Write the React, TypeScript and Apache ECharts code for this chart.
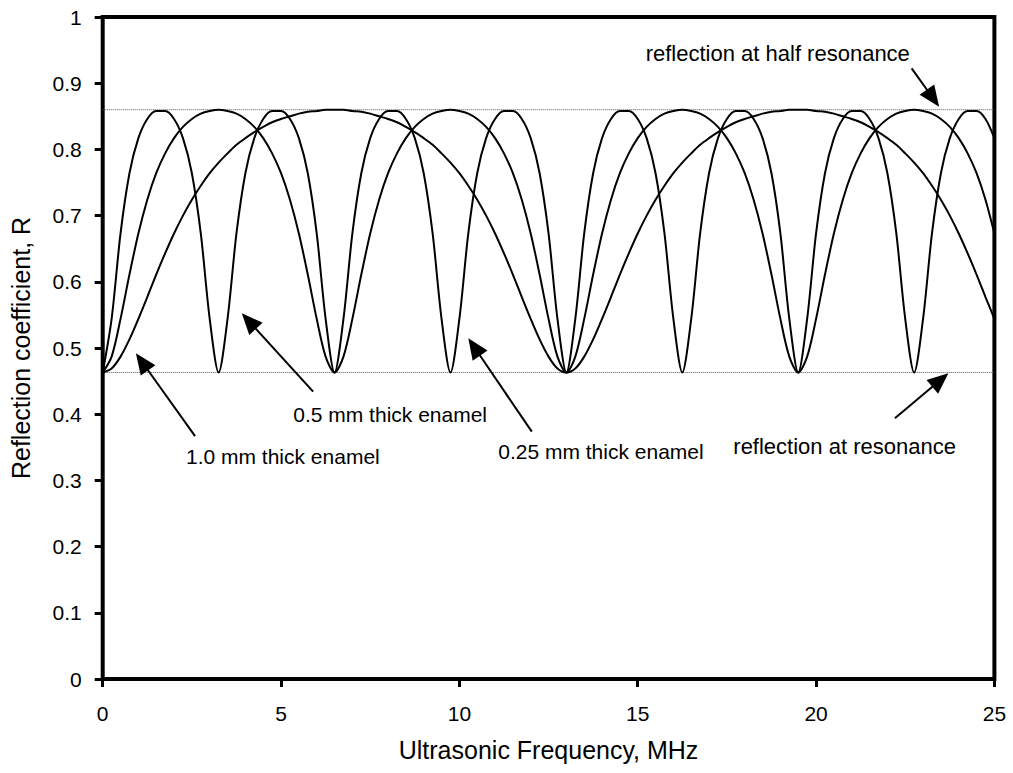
import React, { useEffect, useRef } from "react";
import * as echarts from "echarts";

// Ultrasonic frequency grid (MHz)
const frequency = [
  0, 0.25, 0.5, 0.75, 1, 1.25, 1.5, 1.75, 2, 2.25, 2.5, 2.75, 3, 3.25, 3.5, 3.75, 4, 4.25, 4.5, 4.75,
  5, 5.25, 5.5, 5.75, 6, 6.25, 6.5, 6.75, 7, 7.25, 7.5, 7.75, 8, 8.25, 8.5, 8.75, 9, 9.25, 9.5, 9.75,
  10, 10.25, 10.5, 10.75, 11, 11.25, 11.5, 11.75, 12, 12.25, 12.5, 12.75, 13, 13.25, 13.5, 13.75, 14, 14.25, 14.5, 14.75,
  15, 15.25, 15.5, 15.75, 16, 16.25, 16.5, 16.75, 17, 17.25, 17.5, 17.75, 18, 18.25, 18.5, 18.75, 19, 19.25, 19.5, 19.75,
  20, 20.25, 20.5, 20.75, 21, 21.25, 21.5, 21.75, 22, 22.25, 22.5, 22.75, 23, 23.25, 23.5, 23.75, 24, 24.25, 24.5, 24.75,
  25,
];

// Reflection coefficient, 1.0 mm thick enamel
const enamel10 = [
  0.463, 0.469, 0.487, 0.513, 0.544, 0.577, 0.611, 0.643, 0.673, 0.700, 0.724, 0.745, 0.764, 0.780, 0.794, 0.807, 0.817, 0.826, 0.834, 0.841, 0.846, 0.850, 0.854, 0.857, 0.858, 0.860, 0.860,
  0.860, 0.858, 0.857, 0.854, 0.850, 0.846, 0.841, 0.834, 0.826, 0.817, 0.807, 0.794, 0.780, 0.764, 0.745, 0.724, 0.700, 0.673, 0.643, 0.611, 0.577, 0.544, 0.513, 0.487, 0.469, 0.463,
  0.469, 0.487, 0.513, 0.544, 0.577, 0.611, 0.643, 0.673, 0.700, 0.724, 0.745, 0.764, 0.780, 0.794, 0.807, 0.817, 0.826, 0.834, 0.841, 0.846, 0.850, 0.854, 0.857, 0.858, 0.860, 0.860,
  0.860, 0.858, 0.857, 0.854, 0.850, 0.846, 0.841, 0.834, 0.826, 0.817, 0.807, 0.794, 0.780, 0.764, 0.745, 0.724, 0.700, 0.673, 0.643, 0.611, 0.577, 0.544,
];

// Reflection coefficient, 0.5 mm thick enamel
const enamel05 = [
  0.463, 0.487, 0.544, 0.611, 0.673, 0.724, 0.764, 0.794, 0.817, 0.834, 0.846, 0.854, 0.858, 0.860,
  0.858, 0.854, 0.846, 0.834, 0.817, 0.794, 0.764, 0.724, 0.673, 0.611, 0.544, 0.487, 0.463,
  0.487, 0.544, 0.611, 0.673, 0.724, 0.764, 0.794, 0.817, 0.834, 0.846, 0.854, 0.858, 0.860,
  0.858, 0.854, 0.846, 0.834, 0.817, 0.794, 0.764, 0.724, 0.673, 0.611, 0.544, 0.487, 0.463,
  0.487, 0.544, 0.611, 0.673, 0.724, 0.764, 0.794, 0.817, 0.834, 0.846, 0.854, 0.858, 0.860,
  0.858, 0.854, 0.846, 0.834, 0.817, 0.794, 0.764, 0.724, 0.673, 0.611, 0.544, 0.487, 0.463,
  0.487, 0.544, 0.611, 0.673, 0.724, 0.764, 0.794, 0.817, 0.834, 0.846, 0.854, 0.858, 0.860,
  0.858, 0.854, 0.846, 0.834, 0.817, 0.794, 0.764, 0.724, 0.673,
];

// Reflection coefficient, 0.25 mm thick enamel
const enamel025 = [
  0.463, 0.544, 0.673, 0.764, 0.817, 0.846, 0.858, 0.858, 0.846, 0.817, 0.764, 0.673, 0.544,
  0.463, 0.544, 0.673, 0.764, 0.817, 0.846, 0.858, 0.858, 0.846, 0.817, 0.764, 0.673, 0.544,
  0.463, 0.544, 0.673, 0.764, 0.817, 0.846, 0.858, 0.858, 0.846, 0.817, 0.764, 0.673, 0.544,
  0.463, 0.544, 0.673, 0.764, 0.817, 0.846, 0.858, 0.858, 0.846, 0.817, 0.764, 0.673, 0.544,
  0.463, 0.544, 0.673, 0.764, 0.817, 0.846, 0.858, 0.858, 0.846, 0.817, 0.764, 0.673, 0.544,
  0.463, 0.544, 0.673, 0.764, 0.817, 0.846, 0.858, 0.858, 0.846, 0.817, 0.764, 0.673, 0.544,
  0.463, 0.544, 0.673, 0.764, 0.817, 0.846, 0.858, 0.858, 0.846, 0.817, 0.764, 0.673, 0.544,
  0.463, 0.544, 0.673, 0.764, 0.817, 0.846, 0.858, 0.858, 0.846, 0.817,
];

// Reference levels
const levelFrequency = [0, 25];
const halfResonanceLevel = [0.86, 0.86];
const resonanceLevel = [0.463, 0.463];

// Annotations: label anchor, arrow start, arrow tip (data coordinates)
const annotationTexts = [
  "reflection at half resonance",
  "reflection at resonance",
  "0.25 mm thick enamel",
  "0.5 mm thick enamel",
  "1.0 mm thick enamel",
];
const annotationAlign = ["right", "left", "left", "left", "left"];
const annotationSize = [22, 22, 21, 21, 21];
const annotationLabelAt = [
  [22.63, 0.9456],
  [17.68, 0.3509],
  [11.09, 0.3434],
  [5.343, 0.3988],
  [2.335, 0.3358],
];
const arrowFrom = [
  [22.68, 0.9225],
  [22.21, 0.3938],
  [12.03, 0.3736],
  [5.9, 0.434],
  [2.59, 0.367],
];
const arrowTo = [
  [23.45, 0.8645],
  [23.71, 0.4618],
  [10.25, 0.5147],
  [3.9, 0.5524],
  [0.93, 0.492],
];

const xTitle = "Ultrasonic Frequency, MHz";
const yTitle = "Reflection coefficient, R";

const FONT_FAMILY = '"Liberation Sans", Arial, sans-serif';
const TITLE_FONT = `25px ${FONT_FAMILY}`;

export default function App() {
  const ref = useRef<HTMLDivElement>(null);

  useEffect(() => {
    if (!ref.current) return;
    const chart = echarts.init(ref.current, null, { renderer: "svg" });

    const curve = (values: number[]) => ({
      type: "line",
      data: frequency.map((f, i) => [f, values[i]]),
      showSymbol: false,
      smooth: 0.3,
      lineStyle: { color: "#000", width: 2 },
      z: 3,
    });
    const level = (values: number[]) => ({
      type: "line",
      data: levelFrequency.map((f, i) => [f, values[i]]),
      showSymbol: false,
      lineStyle: { color: "#555", width: 1, type: "dotted" },
      z: 2,
    });

    chart.setOption({
      animation: false,
      backgroundColor: "#fff",
      grid: {
        left: 102.7,
        right: 18.6,
        top: 17,
        bottom: 94,
        show: true,
        borderColor: "#000",
        borderWidth: 4,
        backgroundColor: "transparent",
      },
      xAxis: {
        type: "value",
        min: 0,
        max: 25,
        interval: 5,
        axisLine: { show: false },
        axisTick: { show: true, inside: false, length: 8, lineStyle: { color: "#000", width: 3 } },
        splitLine: { show: false },
        axisLabel: { color: "#000", fontSize: 21, fontFamily: FONT_FAMILY, margin: 24 },
      },
      yAxis: {
        type: "value",
        min: 0,
        max: 1,
        interval: 0.1,
        axisLine: { show: false },
        axisTick: { show: true, inside: false, length: 8, lineStyle: { color: "#000", width: 3 } },
        splitLine: { show: false },
        axisLabel: {
          color: "#000",
          fontSize: 21,
          fontFamily: FONT_FAMILY,
          margin: 21,
          formatter: (v: number) => String(Math.round(v * 10) / 10),
        },
      },
      series: [
        level(halfResonanceLevel),
        level(resonanceLevel),
        curve(enamel10),
        curve(enamel05),
        curve(enamel025),
      ],
    });

    const HEAD_LEN = 21;
    const HEAD_HALF = 9;
    const graphics: any[] = [];
    annotationTexts.forEach((text, i) => {
      const [sx, sy] = chart.convertToPixel({ gridIndex: 0 }, arrowFrom[i]) as number[];
      const [tx, ty] = chart.convertToPixel({ gridIndex: 0 }, arrowTo[i]) as number[];
      const dx = tx - sx;
      const dy = ty - sy;
      const len = Math.hypot(dx, dy);
      const ux = dx / len;
      const uy = dy / len;
      const bx = tx - ux * HEAD_LEN;
      const by = ty - uy * HEAD_LEN;
      graphics.push({
        type: "line",
        silent: true,
        shape: { x1: sx, y1: sy, x2: bx + ux * 2, y2: by + uy * 2 },
        style: { stroke: "#000", lineWidth: 2 },
        z: 10,
      });
      graphics.push({
        type: "polygon",
        silent: true,
        shape: {
          points: [
            [tx, ty],
            [bx - uy * HEAD_HALF, by + ux * HEAD_HALF],
            [bx + uy * HEAD_HALF, by - ux * HEAD_HALF],
          ],
        },
        style: { fill: "#000" },
        z: 10,
      });
      const [lx, ly] = chart.convertToPixel({ gridIndex: 0 }, annotationLabelAt[i]) as number[];
      graphics.push({
        type: "text",
        silent: true,
        x: lx,
        y: ly,
        style: {
          text,
          font: `${annotationSize[i]}px ${FONT_FAMILY}`,
          fill: "#000",
          textAlign: annotationAlign[i],
          textVerticalAlign: "middle",
          verticalAlign: "middle",
        },
        z: 10,
      });
    });

    const [xMid] = chart.convertToPixel({ gridIndex: 0 }, [12.5, 0]) as number[];
    const [, yMid] = chart.convertToPixel({ gridIndex: 0 }, [0, 0.5]) as number[];
    graphics.push({
      type: "text",
      silent: true,
      x: xMid,
      y: 750,
      style: {
        text: xTitle,
        font: TITLE_FONT,
        fill: "#000",
        textAlign: "center",
        textVerticalAlign: "middle",
        verticalAlign: "middle",
      },
    });
    graphics.push({
      type: "text",
      silent: true,
      x: 21,
      y: yMid,
      rotation: Math.PI / 2,
      style: {
        text: yTitle,
        font: TITLE_FONT,
        fill: "#000",
        textAlign: "center",
        textVerticalAlign: "middle",
        verticalAlign: "middle",
      },
    });

    chart.setOption({ graphic: graphics });

    return () => chart.dispose();
  }, []);

  return (
    <div
      ref={ref}
      style={{ position: "fixed", left: 0, top: 0, width: 1013, height: 773, background: "#fff" }}
    />
  );
}
